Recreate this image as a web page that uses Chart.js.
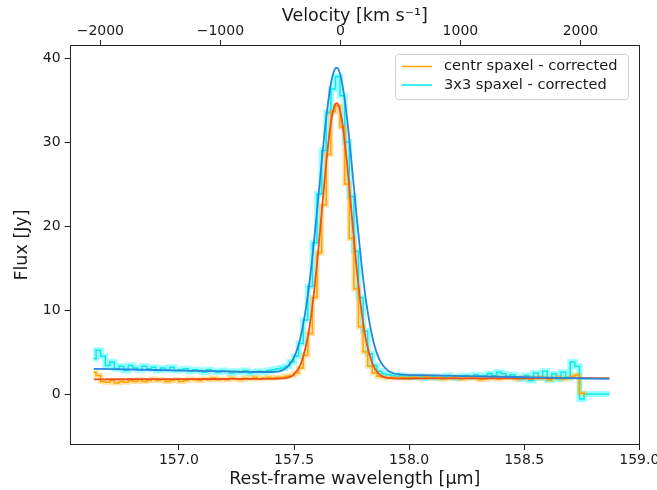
<!DOCTYPE html>
<html lang="en">
<head>
    <meta charset="UTF-8">
    <title>Spectrum fit</title>
    <script src="https://cdn.jsdelivr.net/npm/chart.js"></script>
    <style>
        html, body { margin: 0; padding: 0; background: #fff; }
        #wrap { width: 657px; height: 490px; }
    </style>
</head>
<body>
    <div id="wrap"><canvas id="spec" width="657" height="490"></canvas></div>

    <script>
        // Observed spectrum (step-mid), rest-frame wavelength in micron
        const wave = [
            156.63,156.65,156.67,156.69,156.71,156.73,156.75,156.77,156.79,156.81,
            156.83,156.85,156.87,156.89,156.91,156.93,156.95,156.97,156.99,157.01,
            157.03,157.05,157.07,157.09,157.11,157.13,157.15,157.17,157.19,157.21,
            157.23,157.25,157.27,157.29,157.31,157.33,157.35,157.37,157.39,157.41,
            157.43,157.45,157.47,157.49,157.51,157.53,157.55,157.57,157.59,157.61,
            157.63,157.65,157.67,157.69,157.71,157.73,157.75,157.77,157.79,157.81,
            157.83,157.85,157.87,157.89,157.91,157.93,157.95,157.97,157.99,158.01,
            158.03,158.05,158.07,158.09,158.11,158.13,158.15,158.17,158.19,158.21,
            158.23,158.25,158.27,158.29,158.31,158.33,158.35,158.37,158.39,158.41,
            158.43,158.45,158.47,158.49,158.51,158.53,158.55,158.57,158.59,158.61,
            158.63,158.65,158.67,158.69,158.71,158.73,158.75,158.77,158.79,158.81,
            158.83,158.85,158.87
        ];
        const fluxCentr = [
            2.6,2.2,1.5,1.4,1.6,1.3,1.5,1.4,1.6,1.5,
            1.7,1.5,1.6,1.8,1.6,1.7,1.5,1.6,1.7,1.5,
            1.6,1.8,1.7,1.6,1.8,1.7,1.9,1.7,1.8,1.7,
            1.9,1.8,1.7,1.9,1.8,2.0,1.8,1.9,2.0,1.9,
            2.0,2.0,2.1,2.2,2.5,3.1,4.6,7.2,11.5,16.8,
            22.5,28.5,33.6,34.3,31.8,25.0,18.5,12.5,8.0,5.0,
            3.3,2.5,2.1,2.0,1.9,2.0,1.9,2.0,1.9,2.0,
            2.0,1.9,2.1,2.0,1.9,2.0,1.8,1.9,2.0,1.9,
            1.8,1.9,2.0,1.9,1.7,1.8,1.9,2.0,1.8,1.9,
            2.0,1.9,1.8,1.9,2.0,1.8,1.9,2.0,1.9,1.7,
            1.9,2.0,1.8,1.9,2.1,2.3,0.1,0.0,null,null,
            null,null,null
        ];
        const flux3x3 = [
            4.2,5.2,4.5,3.4,3.8,3.0,3.3,2.8,3.4,3.1,
            2.9,3.3,3.0,3.2,2.8,3.1,2.9,3.2,2.8,2.9,
            3.0,2.7,2.9,2.8,2.6,2.9,2.7,2.6,2.8,2.7,
            2.5,2.7,2.6,2.8,2.5,2.6,2.7,2.6,2.8,2.9,
            3.0,3.1,3.3,3.8,4.5,6.0,8.8,12.8,18.0,23.8,
            29.0,33.5,36.3,37.8,35.5,30.0,23.5,17.0,11.5,7.5,
            4.8,3.4,2.7,2.4,2.3,2.2,2.1,2.2,2.0,2.1,
            2.0,2.1,1.9,2.0,2.1,1.9,2.0,2.2,2.0,1.9,
            2.1,2.2,2.0,2.3,2.1,2.2,2.4,2.2,2.6,2.4,
            2.1,2.3,2.0,1.8,2.2,1.6,2.5,1.9,2.7,1.7,
            2.4,1.8,2.6,2.0,3.8,3.3,-0.6,0.0,0.0,0.0,
            0.0,0.0,0.0
        ];

        // Gaussian + continuum fits, sampled off the plot
        const fitWave = [156.63,156.90,157.20,157.40,157.46,157.50,157.53,157.56,157.58,157.60,
                         157.62,157.64,157.66,157.675,157.685,157.695,157.71,157.73,157.75,157.77,
                         157.79,157.81,157.84,157.87,157.91,157.96,158.05,158.30,158.60,158.87];
        const fitCentr = [1.75,1.77,1.79,1.80,1.88,2.34,3.64,6.82,10.53,15.57,
                          21.55,27.53,32.24,34.22,34.62,34.22,32.25,27.54,21.56,15.58,
                          10.54,6.83,3.66,2.37,1.91,1.84,1.85,1.86,1.88,1.90];
        const fit3x3 = [3.00,2.86,2.69,2.62,2.99,4.35,6.97,11.78,16.36,21.83,
                        27.62,32.95,36.91,38.52,38.84,38.51,36.89,32.91,27.56,21.74,
                        16.25,11.65,6.81,4.16,2.75,2.34,2.24,2.11,1.94,1.80];

        const waveTicks = [157.0, 157.5, 158.0, 158.5, 159.0];
        const velTicks = [-2000, -1000, 0, 1000, 2000];
        const fluxTicks = [0, 10, 20, 30, 40];

        const legendItems = [
            { label: 'centr spaxel - corrected', color: '#ffa500' },
            { label: '3x3 spaxel - corrected', color: '#10e8e8' }
        ];

        const FONT = 'DejaVu Sans';
        const INK = '#1a1a1a';

        const pts = (xs, ys) => xs.map((x, i) => ({ x: x, y: ys[i] }));

        // frame round the plot + legend box
        const framePlugin = {
            id: 'frame',
            afterDatasetsDraw(chart) {
                const { ctx, chartArea: a } = chart;
                ctx.save();
                ctx.strokeStyle = '#222';
                ctx.lineWidth = 1;
                ctx.strokeRect(Math.round(a.left) + 0.5, Math.round(a.top) + 0.5,
                    Math.round(a.right - a.left) - 1, Math.round(a.bottom - a.top) - 1);

                // legend
                const bx = 395, by = 54, bw = 233, bh = 45;
                ctx.beginPath();
                ctx.roundRect(bx + 0.5, by + 0.5, bw, bh, 3);
                ctx.fillStyle = 'rgba(255,255,255,0.8)';
                ctx.fill();
                ctx.strokeStyle = '#d0d0d0';
                ctx.stroke();
                ctx.font = '14.6px "' + FONT + '"';
                ctx.textBaseline = 'middle';
                legendItems.forEach((it, i) => {
                    const y = by + 12.5 + i * 18.5;
                    ctx.beginPath();
                    ctx.moveTo(402, y);
                    ctx.lineTo(432, y);
                    ctx.strokeStyle = it.color;
                    ctx.lineWidth = 1.6;
                    ctx.stroke();
                    ctx.fillStyle = INK;
                    ctx.fillText(it.label, 444, y);
                });
                ctx.restore();
            }
        };

        const tickGrid = { display: true, drawOnChartArea: false, drawTicks: true, tickLength: 5, tickColor: '#222', tickWidth: 1 };
        const noSidePad = s => { s.paddingLeft = 0; s.paddingRight = 0; s.height = 45; };

        new Chart(document.getElementById('spec'), {
            type: 'line',
            data: {
                datasets: [
                    { label: 'fit 3x3', data: pts(fitWave, fit3x3), borderColor: '#2a85dc', borderWidth: 1.8,
                      pointRadius: 0, cubicInterpolationMode: 'monotone', order: 0 },
                    { label: 'fit centr', data: pts(fitWave, fitCentr), borderColor: '#f0501e', borderWidth: 1.8,
                      pointRadius: 0, cubicInterpolationMode: 'monotone', order: 1 },
                    { label: 'centr spaxel - corrected', data: pts(wave, fluxCentr), borderColor: '#ffa500', borderWidth: 1.5,
                      pointRadius: 0, stepped: 'middle', order: 2 },
                    { label: '3x3 spaxel - corrected', data: pts(wave, flux3x3), borderColor: '#10e8e8', borderWidth: 1.5,
                      pointRadius: 0, stepped: 'middle', order: 3 },
                    { label: 'centr band', data: pts(wave, fluxCentr), borderColor: 'rgba(255,165,0,0.35)', borderWidth: 5,
                      pointRadius: 0, stepped: 'middle', order: 4 },
                    { label: '3x3 band', data: pts(wave, flux3x3), borderColor: 'rgba(0,255,255,0.4)', borderWidth: 6,
                      pointRadius: 0, stepped: 'middle', order: 5 }
                ]
            },
            options: {
                responsive: false,
                animation: false,
                spanGaps: false,
                layout: { padding: { left: 0, right: 17, top: 0, bottom: 0 } },
                plugins: { legend: { display: false }, tooltip: { enabled: false } },
                scales: {
                    x: {
                        type: 'linear', position: 'bottom', min: 156.525, max: 159.003,
                        grid: tickGrid, border: { display: false },
                        afterBuildTicks: s => { s.ticks = waveTicks.map(v => ({ value: v })); },
                        afterFit: noSidePad,
                        ticks: { color: INK, padding: 2, maxRotation: 0, autoSkip: false,
                                 font: { family: FONT, size: 14 }, callback: v => v.toFixed(1) },
                        title: { display: true, text: 'Rest-frame wavelength [µm]', color: INK,
                                 font: { family: FONT, size: 17.5 }, padding: { top: 0, bottom: 0.5 } }
                    },
                    xv: {
                        type: 'linear', position: 'top', min: -2256, max: 2496,
                        grid: tickGrid, border: { display: false },
                        afterBuildTicks: s => { s.ticks = velTicks.map(v => ({ value: v })); },
                        afterFit: noSidePad,
                        ticks: { color: INK, padding: 0, maxRotation: 0, autoSkip: false,
                                 font: { family: FONT, size: 14 },
                                 callback: v => String(v).replace('-', '\u2212') },
                        title: { display: true, text: 'Velocity [km s\u207B\u00B9]', color: INK,
                                 font: { family: FONT, size: 17.5 }, padding: { top: 6, bottom: 0 } }
                    },
                    y: {
                        type: 'linear', position: 'left', min: -6.07, max: 41.55,
                        grid: tickGrid, border: { display: false },
                        afterBuildTicks: s => { s.ticks = fluxTicks.map(v => ({ value: v })); },
                        afterFit: s => { s.width = 69.6; },
                        ticks: { color: INK, padding: 4, font: { family: FONT, size: 14 } },
                        title: { display: true, text: 'Flux [Jy]', color: INK,
                                 font: { family: FONT, size: 17.5 }, padding: { top: 11.5, bottom: 0 } }
                    }
                }
            },
            plugins: [framePlugin]
        });
    </script>
</body>
</html>
